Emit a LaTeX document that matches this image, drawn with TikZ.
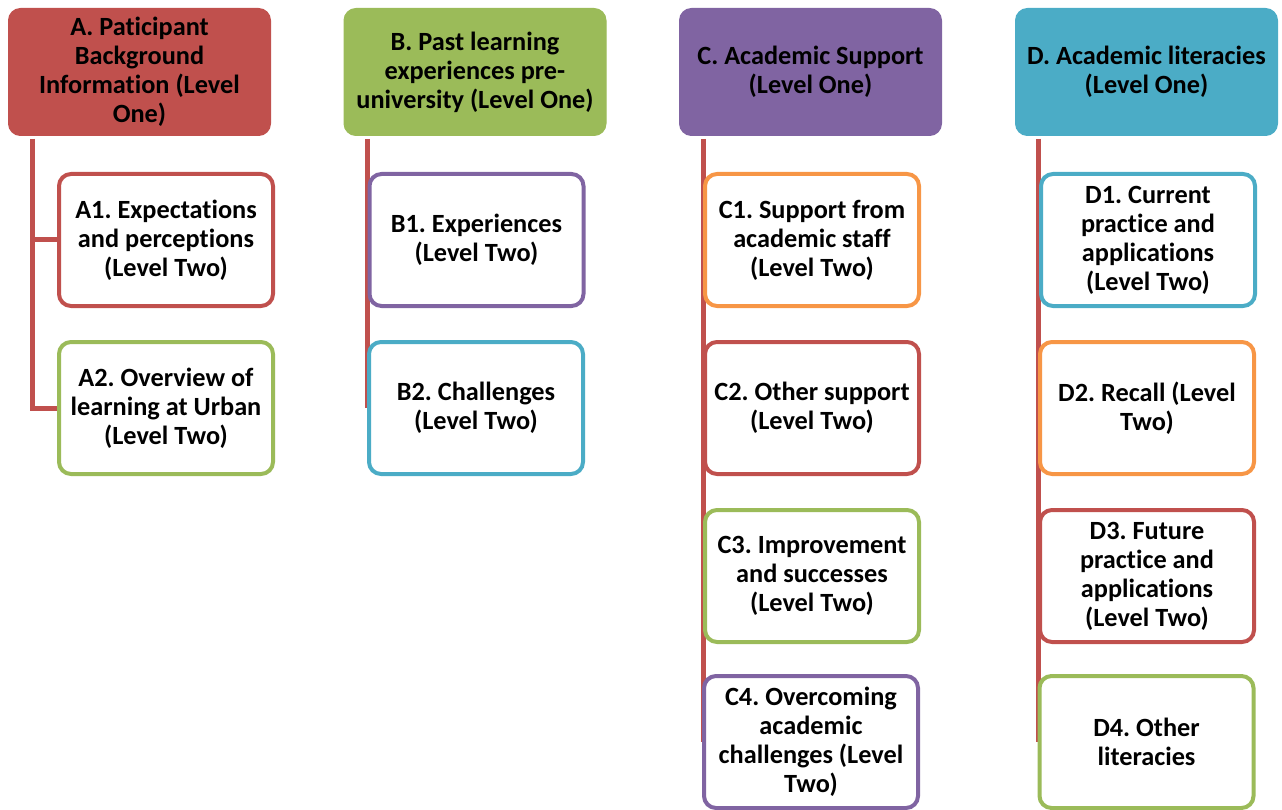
\documentclass[tikz,border=0pt]{standalone}
\usepackage{fontspec}
\setmainfont{Carlito}[Ligatures={NoCommon}]
\frenchspacing
\definecolor{cRed}{HTML}{C0504D}
\definecolor{cGreen}{HTML}{9BBB59}
\definecolor{cPurple}{HTML}{8064A2}
\definecolor{cTeal}{HTML}{4BACC6}
\definecolor{cOrange}{HTML}{F79646}
\tikzset{
  head/.style={rectangle, rounded corners=12pt, fill=#1, draw=#1, line width=1pt,
    minimum width=262pt, minimum height=127pt, inner sep=2pt, align=center,
    font=\fontsize{26.3}{29}\selectfont\bfseries, text=black},
  child/.style={rectangle, rounded corners=12pt, fill=white, draw=#1, line width=4pt,
    minimum width=214pt, minimum height=132pt, inner sep=2pt, align=center,
    font=\fontsize{26.3}{29}\selectfont\bfseries, text=black},
  conn/.style={draw=cRed, line width=5pt}
}
\begin{document}
\begin{tikzpicture}[x=1pt,y=-1pt]
\useasboundingbox (0,0) rectangle (1282,810);
% headers
\node[head=cRed]    (hA) at (139.5,72) {A. Paticipant\\Background\\Information (Level\\One)};
\node[head=cGreen]  (hB) at (475,72) {B. Past learning\\experiences pre-\\university (Level One)};
\node[head=cPurple] (hC) at (810.5,72) {C. Academic Support\\(Level One)};
\node[head=cTeal]   (hD) at (1146.5,72) {D. Academic literacies\\(Level One)};
% connector start points
\coordinate (sA) at (32,139);
\coordinate (sB) at (367,139);
\coordinate (sC) at (703,139);
\coordinate (sD) at (1038,139);
% connectors A
\draw[conn] (sA) |- (59,240);
\draw[conn] (sA) |- (59,408);
% connectors B, C, D (run behind the boxes)
\draw[conn] (sB) -- (367,408);
\draw[conn] (sC) -- (703,742);
\draw[conn] (sD) -- (1038,742);
% children A
\node[child=cRed]   (A1) at (166,240) {A1. Expectations\\and perceptions\\(Level Two)};
\node[child=cGreen] (A2) at (166,408) {A2. Overview of\\learning at Urban\\(Level Two)};
% children B
\node[child=cPurple] (B1) at (476.5,240) {B1. Experiences\\(Level Two)};
\node[child=cTeal]   (B2) at (476,408) {B2. Challenges\\(Level Two)};
% children C
\node[child=cOrange] (C1) at (812,240) {C1. Support from\\academic staff\\(Level Two)};
\node[child=cRed]    (C2) at (812,408) {C2. Other support\\(Level Two)};
\node[child=cGreen]  (C3) at (812,576) {C3. Improvement\\and successes\\(Level Two)};
\node[child=cPurple] (C4) at (811,742) {C4. Overcoming\\academic\\challenges (Level\\Two)};
% children D
\node[child=cTeal]   (D1) at (1148,240) {D1. Current\\practice and\\applications\\(Level Two)};
\node[child=cOrange] (D2) at (1147,408) {D2. Recall (Level\\Two)};
\node[child=cRed]    (D3) at (1147,576) {D3. Future\\practice and\\applications\\(Level Two)};
\node[child=cGreen]  (D4) at (1146.5,742) {D4. Other\\literacies};
\end{tikzpicture}
\end{document}
